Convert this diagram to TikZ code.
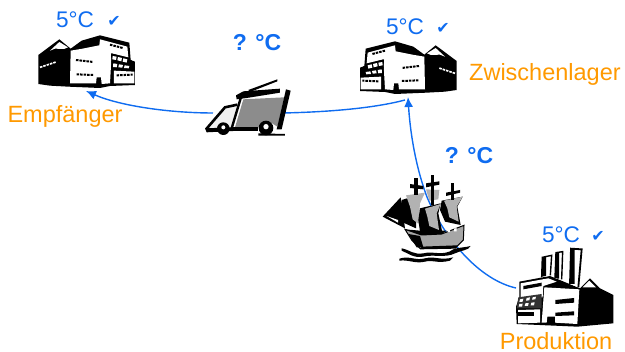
\documentclass[tikz,border=0pt]{standalone}
\usepackage{fontspec}
\usetikzlibrary{arrows.meta}
\setmainfont{Liberation Sans}
\newfontfamily\symfont{DejaVu Sans}
\definecolor{flowblue}{RGB}{15,108,240}
\definecolor{lblorange}{RGB}{255,153,0}
\tikzset{
  x=1pt,y=-1pt,
  flow/.style={draw=flowblue,line width=1.4pt},
  flowarrow/.style={flow,-{Latex[length=10pt,width=9pt]}},
  anchorbox/.style={inner sep=0pt,outer sep=0pt},
  temp/.style={text=flowblue,font=\fontsize{22.6}{24}\selectfont,inner sep=0pt},
  unknown/.style={text=flowblue,font=\fontsize{23}{24}\selectfont\bfseries,inner sep=0pt},
  okmark/.style={text=flowblue,font=\symfont\fontsize{16}{17}\selectfont,inner sep=0pt},
  place/.style={text=lblorange,font=\fontsize{23.5}{25}\selectfont,inner sep=0pt},
  ink/.style={fill=black,draw=none},
  sheet/.style={fill=white,draw=black,line width=1.4pt},
  win/.style={line width=2pt,dash pattern=on 2.5pt off 1pt,black},
  building/.pic={
    \begin{scope}[scale=1/3]
      \fill[black] (115,165)--(178,118)--(212,146)--(245,122)--(300,106)--(388,128)--(392,180)--(405,185)--(405,255)--(330,258)--(300,264)--(205,260)--(150,257)--(115,252)--cycle;
      \fill[white] (150,152)--(178,126)--(204,142)--(192,147)--(165,146)--cycle;
      \fill[white] (212,152)--(248,146)--(298,136)--(300,118)--(382,140)--(385,172)--(335,160)--(330,250)--(305,252)--(303,232)--(290,232)--(288,250)--(210,250)--cycle;
      \fill[white] (342,212)--(403,215)--(403,250)--(342,250)--cycle;
      \fill[black] (333,160)--(388,176)--(403,190)--(403,210)--(336,208)--cycle;
      \fill[white] (338,168)--(350,170)--(348,180)--(337,178)--cycle
                   (354,171)--(366,174)--(364,184)--(352,181)--cycle
                   (370,175)--(382,178)--(380,188)--(368,185)--cycle
                   (340,190)--(352,192)--(350,202)--(339,201)--cycle
                   (357,193)--(369,195)--(367,203)--(355,202)--cycle
                   (374,196)--(388,198)--(386,205)--(372,204)--cycle;
      \draw[win] (228,180)--(280,186);
      \draw[win] (230,223)--(280,225);
      \draw[win] (330,134)--(368,144);
      \draw[win] (250,134)--(290,124);
      \draw[win] (350,226)--(398,224);
      \draw[white,line width=1.6pt,dash pattern=on 2.5pt off 1pt] (120,202)--(168,186);
    \end{scope}
  },
}
\begin{document}
\begin{tikzpicture}
\useasboundingbox (0,0) rectangle (625,352);
% anchors for the connectors
\node[anchorbox,minimum width=98pt,minimum height=56pt] (empf) at (86,63) {};
\node[anchorbox,minimum width=98pt,minimum height=60pt] (zwi) at (408,67) {};
\node[anchorbox,minimum width=70pt,minimum height=50pt] (truck) at (248,113) {};
\node[anchorbox,minimum width=98pt,minimum height=56pt] (prod) at (565,288) {};
\coordinate (ship) at (427,197);
\coordinate (join) at (405,100);
% connectors
\draw[flowarrow] (truck.west) .. controls (170,113) and (120,106) .. (empf.south);
\draw[flow] (truck.east) .. controls (330,112) and (375,108) .. (join);
\draw[flow] (prod.west) .. controls (480,280) and (445,240) .. (ship);
\draw[flowarrow] (ship) .. controls (415,165) and (410,130) .. (zwi.south);
% warehouses
\pic at (0,0) {building};
\pic[xscale=-1] at (495,6) {building};
% truck
\begin{scope}[shift={(190,20)},scale=1/3]
  \fill[black!6] (50,328)--(102,268)--(140,258)--(130,322)--cycle;
  \draw[black,line width=2.6pt] (48,328)--(105,262)--(142,254);
  \fill[black!45] (160,238)--(283,232)--(262,320)--(240,306)--(215,322)--(135,322)--cycle;
  \draw[black,line width=2.4pt] (155,225)--(125,325);
  \fill[ink] (138,226)--(160,214)--(270,206)--(270,218)--(170,234)--(140,238)--cycle;
  \fill[ink] (175,210)--(262,178)--(262,184)--(180,216)--cycle;
  \fill[ink] (288,208)--(302,212)--(275,328)--(260,328)--cycle;
  \fill[ink] (45,325)--(130,322)--(130,333)--(50,337)--cycle;
  \fill[ink] (125,322)--(205,322)--(205,334)--(125,334)--cycle;
  \fill[ink] (205,340)--(285,342)--(285,347)--(205,347)--cycle;
  \fill[ink] (100,326) circle (19);
  \fill[ink] (228,324) circle (22);
  \fill[white] (100,322) circle (6) (228,320) circle (8);
\end{scope}
% ship
\begin{scope}[shift={(370,160)},scale=1/3]
  \fill[ink] (92,112)--(38,170)--(105,205)--cycle;
  \fill[white] (50,168)--(84,180)--(84,188)--cycle;
  \fill[ink] (95,120)--(160,100)--(140,130)--(138,205)--(100,188)--(90,150)--cycle;
  \fill[black!30] (108,106)--(165,98)--(150,130)--(146,192)--(128,178)--(120,140)--cycle;
  \fill[ink] (150,145)--(212,130)--(205,160)--(218,222)--(150,215)--(145,180)--cycle;
  \fill[black!30] (165,146)--(212,132)--(200,160)--(207,210)--(178,198)--(172,170)--cycle;
  \fill[ink] (215,122)--(278,110)--(262,140)--(272,195)--(225,185)--(210,150)--cycle;
  \fill[black!30] (222,122)--(278,110)--(260,140)--(266,185)--(238,172)--(232,145)--cycle;
  \fill[black!30] (168,88)--(208,90)--(205,118)--(178,122)--cycle;
  \fill[ink] (132,55)--(144,55)--(144,105)--(132,105)--cycle;
  \fill[ink] (120,72)--(160,78)--(160,88)--(120,84)--cycle;
  \fill[ink] (182,45)--(192,45)--(192,135)--(182,135)--cycle;
  \fill[ink] (168,70)--(208,64)--(208,74)--(168,82)--cycle;
  \fill[ink] (243,70)--(252,70)--(252,120)--(243,120)--cycle;
  \fill[ink] (228,98)--(270,90)--(270,98)--(228,108)--cycle;
  \fill[black!35,draw=black,line width=1pt] (105,208)--(155,225)--(215,222)--(282,196)--(280,240)--(258,262)--(150,265)--(125,240)--cycle;
  \fill[ink] (105,208)--(155,225)--(215,222)--(230,212)--(150,212)--cycle;
  \fill[ink] (115,222)--(150,228)--(160,262)--(140,262)--cycle;
  \fill[ink] (155,260)--(262,256)--(258,266)--(150,268)--cycle;
  \fill[white] (233,208)--(240,207)--(240,216)--(233,216)--cycle (252,206)--(260,204)--(260,214)--(252,214)--cycle;
  \fill[ink] (95,265) .. controls (120,270) and (130,285) .. (160,280) .. controls (190,272) and (220,290) .. (250,268) .. controls (265,262) and (290,262) .. (302,258) .. controls (295,272) and (275,270) .. (255,280) .. controls (225,295) and (190,282) .. (160,290) .. controls (130,295) and (115,280) .. (95,272) -- cycle;
  \fill[ink] (88,296) .. controls (120,286) and (135,303) .. (165,295) .. controls (195,287) and (210,303) .. (250,292) -- (240,302) .. controls (200,312) and (190,298) .. (165,305) .. controls (135,312) and (115,298) .. (88,302) -- cycle;
\end{scope}
% factory
\begin{scope}[shift={(490,210)},scale=1/3]
  \fill[black] (270,235)--(300,205)--(330,235)--(370,255)--(370,340)--(262,350)--(80,342)--(78,290)--(88,262)--(88,215)--(180,198)--cycle;
  \fill[white] (92,220)--(175,205)--(200,215)--(160,228)--(158,262)--(92,262)--cycle;
  \fill[white] (163,232)--(268,238)--(262,342)--(195,338)--(195,320)--(172,320)--(170,338)--(155,338)--cycle;
  \fill[white] (84,300)--(150,298)--(150,338)--(84,340)--cycle;
  \fill[white] (278,232)--(298,212)--(318,232)--cycle;
  \fill[black!80] (85,262)--(155,252)--(155,295)--(80,295)--cycle;
  \fill[white] (90,268)--(100,266)--(98,275)--(88,276)--cycle (110,264)--(120,262)--(118,271)--(108,272)--cycle (128,262)--(138,260)--(136,268)--(126,269)--cycle
               (88,282)--(98,281)--(96,290)--(86,290)--cycle (106,280)--(116,279)--(114,288)--(104,288)--cycle (124,278)--(134,277)--(132,286)--(122,286)--cycle;
  \fill[black] (100,228)--(155,218)--(155,228)--(100,238)--cycle;
  \fill[black] (84,306)--(132,306)--(132,318)--(84,318)--cycle;
  \fill[black] (196,270)--(252,264)--(252,278)--(196,282)--cycle;
  \fill[black] (196,308)--(252,304)--(252,316)--(196,318)--cycle;
  \draw[sheet] (155,202)--(157,142)--(185,136)--(181,196);
  \draw[sheet] (195,205)--(198,128)--(218,125)--(215,208);
  \fill[white] (240,222)--(243,116)--(275,118)--(265,232)--cycle;
  \draw[black,line width=1.8pt] (240,222)--(243,116)--(275,118)--(265,232);
  \fill[black] (243,116)--(254,116)--(254,222)--(240,222)--cycle;
  \fill[black] (157,142)--(168,140)--(168,198)--(155,200)--cycle;
  \fill[black] (198,128)--(207,127)--(207,206)--(195,205)--cycle;
\end{scope}
% texts
\node[temp] (t1) at (75,20) {5°C};
\node[okmark] (c1) at (114,21) {✔};
\node[temp] (t2) at (405,27) {5°C};
\node[okmark] (c2) at (443,28) {✔};
\node[temp] (t3) at (561,235) {5°C};
\node[okmark] (c3) at (598,236) {✔};
\node[unknown] (q1) at (257,43) {? °C};
\node[unknown] (q2) at (469,156) {? °C};
\node[place] (l1) at (65,116) {Empfänger};
\node[place,anchor=west] (l2) at (469,74) {Zwischenlager};
\node[place] (l3) at (556,341) {Produktion};
\end{tikzpicture}
\end{document}
